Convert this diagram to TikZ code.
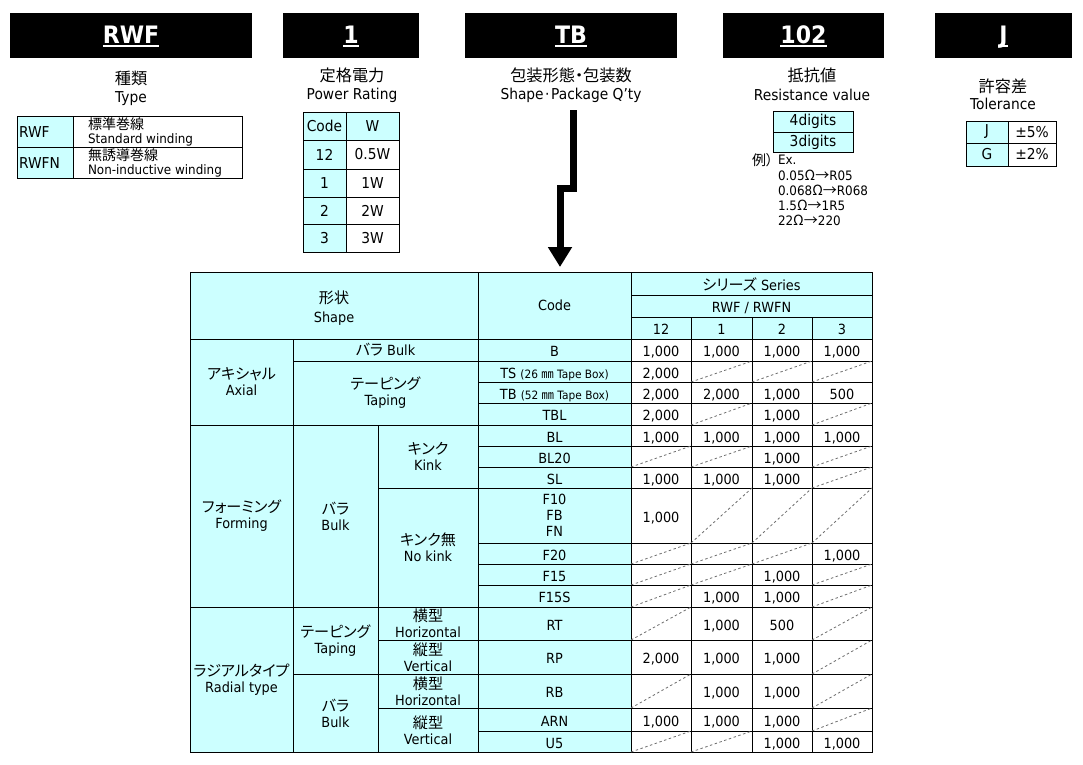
\documentclass[tikz,border=0pt]{standalone}
\usepackage{fontspec}
\setmainfont{DejaVu Sans}[FakeStretch=0.92]
\newfontfamily\jp{Noto Sans CJK JP}[RawFeature=+palt,Scale=1.08]
\usetikzlibrary{arrows.meta}
\definecolor{cy}{RGB}{204,255,255}
\definecolor{slgray}{RGB}{110,110,110}
\def\slmark{/}
\tikzset{
  every node/.style={inner sep=0pt, outer sep=0pt},
  hbox/.style={fill=black, minimum height=45pt},
  htext/.style={text=white, font=\fontsize{24}{28}\selectfont\bfseries, anchor=base},
  lbl/.style={font=\fontsize{15}{18}\selectfont},
  small/.style={font=\fontsize{13}{14}\selectfont},
  cbox/.style={draw=black, line width=0.9pt, fill=cy, align=center, font=\fontsize{14}{16}\selectfont},
  wbox/.style={draw=black, line width=0.9pt, fill=white, align=center, font=\fontsize{14}{16}\selectfont},
  oneline/.style={text height=13.6pt, text depth=0pt},
  slash/.style={draw=slgray, line width=0.8pt, dash pattern=on 2.5pt off 2.5pt},
  uline/.style={draw=white, line width=1.5pt},
}
\newcommand\bx[7]{%
  \node[#1, minimum width={(#5-#3)*1pt}, minimum height={(#6-#4)*1pt}] (#2) at ({(#3+#5)/2},{(#4+#6)/2}) {#7};}
\newcommand\dc[6]{%
  \def\tmpv{#6}%
  \ifx\tmpv\slmark
    \bx{wbox}{#1}{#2}{#3}{#4}{#5}{}%
    \draw[slash] (#1.south west) -- (#1.north east);%
  \else
    \bx{wbox,oneline}{#1}{#2}{#3}{#4}{#5}{#6}%
  \fi}
\newcommand\drow[7]{%
  \dc{#1a}{631}{#2}{691}{#3}{#4}%
  \dc{#1b}{691}{#2}{752}{#3}{#5}%
  \dc{#1c}{752}{#2}{812}{#3}{#6}%
  \dc{#1d}{812}{#2}{872}{#3}{#7}}
\newcommand\hd[5]{% name x1 x2 text
  \node[hbox, minimum width={(#3-#2)*1pt}] (#1) at ({(#2+#3)/2},35.5) {};
  \node[htext] (#1t) at ({(#2+#3)/2},43) {#4};
  \draw[uline] ([yshift=-3pt]#1t.base west) -- ([yshift=-3pt]#1t.base east);}
\newcommand\sm{\fontsize{11.5}{13}\selectfont}
\begin{document}
\begin{tikzpicture}[x=1pt,y=-1pt]
\fill[white] (0,0) rectangle (1083,764);
\useasboundingbox (0,0) rectangle (1083,764);

% ---- header boxes
\hd{h1}{10}{252}{RWF}{}
\hd{h2}{283}{419}{1}{}
\hd{h3}{465}{677}{TB}{}
\hd{h4}{723}{884}{102}{}
\hd{h5}{935}{1072}{J}{}

% ---- labels
\node[lbl] (l1a) at (131,78) {\jp 種類};
\node[lbl] (l1b) at (131,99) {Type};
\node[lbl] (l2a) at (352,75) {\jp 定格電力};
\node[lbl] (l2b) at (352,95) {Power Rating};
\node[lbl] (l3a) at (571,75) {\jp 包装形態・包装数};
\node[lbl] (l3b) at (571,95) {Shape\kern1.5pt·\kern1.5pt Package Q’ty};
\node[lbl] (l4a) at (812,75) {\jp 抵抗値};
\node[lbl] (l4b) at (812,95) {Resistance value};
\node[lbl] (l5a) at (1003,86) {\jp 許容差};
\node[lbl] (l5b) at (1003,104) {Tolerance};

% ---- type table
\bx{cbox}{tA1}{17}{116}{73}{147}{}
\bx{wbox}{tA2}{73}{116}{242}{147}{}
\bx{cbox}{tB1}{17}{147}{73}{178}{}
\bx{wbox}{tB2}{73}{147}{242}{178}{}
\node[lbl, anchor=west] (tA1t) at (19,132) {RWF};
\node[lbl, anchor=west] (tB1t) at (19,163) {RWFN};
\node[small, anchor=west, align=left] (tA2t) at (88,131.5) {{\jp 標準巻線}\\Standard winding};
\node[small, anchor=west, align=left] (tB2t) at (88,162.5) {{\jp 無誘導巻線}\\Non-inductive winding};

% ---- power table
\bx{cbox,lbl}{p0a}{303}{112}{346}{140}{Code}
\bx{cbox,lbl}{p0b}{346}{112}{399}{140}{W}
\bx{cbox,lbl}{p1a}{303}{140}{346}{169}{12}
\bx{wbox,lbl}{p1b}{346}{140}{399}{169}{0.5W}
\bx{cbox,lbl}{p2a}{303}{169}{346}{197}{1}
\bx{wbox,lbl}{p2b}{346}{169}{399}{197}{1W}
\bx{cbox,lbl}{p3a}{303}{197}{346}{224}{2}
\bx{wbox,lbl}{p3b}{346}{197}{399}{224}{2W}
\bx{cbox,lbl}{p4a}{303}{224}{346}{252}{3}
\bx{wbox,lbl}{p4b}{346}{224}{399}{252}{3W}

% ---- resistance
\bx{cbox,lbl}{r1}{773}{111}{853}{132}{4digits}
\bx{cbox,lbl}{r2}{773}{132}{853}{152}{3digits}
\node[small, anchor=west] (ex0) at (752,160) {\jp 例）};
\node[small, anchor=west] (ex1) at (778,160) {Ex.};
\node[small, anchor=west] (ex2) at (778,175) {0.05{\jp Ω→}R05};
\node[small, anchor=west] (ex3) at (778,190) {0.068{\jp Ω→}R068};
\node[small, anchor=west] (ex4) at (778,205) {1.5{\jp Ω→}1R5};
\node[small, anchor=west] (ex5) at (778,220) {22{\jp Ω→}220};

% ---- tolerance
\bx{cbox,lbl}{g1a}{966}{121}{1008}{143}{J}
\bx{wbox,lbl}{g1b}{1008}{121}{1056}{143}{±5\%}
\bx{cbox,lbl}{g2a}{966}{143}{1008}{166}{G}
\bx{wbox,lbl}{g2b}{1008}{143}{1056}{166}{±2\%}

% ---- arrow
\coordinate (a0) at (573.5,110);
\coordinate (a1) at (560,267);
\draw[line width=7pt, line join=miter, -{Triangle[length=20pt,width=23pt]}] (a0) -- ++(0,78.5) -| (a1);

% ---- main table header
\bx{cbox}{hShape}{190}{272}{478}{339}{}
\node[cbox, draw=none, fill=none] (hShapeT) at (334,308) {{\jp 形状}\\[3pt]Shape};
\bx{cbox}{hCode}{478}{272}{631}{339}{Code}
\bx{cbox,oneline}{hSer}{631}{272}{872}{295}{{\jp シリーズ} Series}
\bx{cbox,oneline}{hRw}{631}{295}{872}{317}{RWF / RWFN}
\bx{cbox,oneline}{hc1}{631}{317}{691}{339}{12}
\bx{cbox,oneline}{hc2}{691}{317}{752}{339}{1}
\bx{cbox,oneline}{hc3}{752}{317}{812}{339}{2}
\bx{cbox,oneline}{hc4}{812}{317}{872}{339}{3}

% ---- shape columns
\bx{cbox}{sAx}{190}{339}{293}{425}{{\jp アキシャル}\\Axial}
\bx{cbox}{sAxB}{293}{339}{478}{361}{{\jp バラ} Bulk}
\bx{cbox}{sAxT}{293}{361}{478}{425}{{\jp テーピング}\\Taping}
\bx{cbox}{sFo}{190}{425}{293}{607}{{\jp フォーミング}\\Forming}
\bx{cbox}{sFoB}{293}{425}{378}{607}{{\jp バラ}\\Bulk}
\bx{cbox}{sFoK}{378}{425}{478}{488}{{\jp キンク}\\Kink}
\bx{cbox}{sFoN}{378}{488}{478}{607}{{\jp キンク無}\\No kink}
\bx{cbox}{sRa}{190}{607}{293}{752}{{\jp ラジアルタイプ}\\Radial type}
\bx{cbox}{sRaT}{293}{607}{378}{674}{{\jp テーピング}\\Taping}
\bx{cbox}{sRaB}{293}{674}{378}{752}{{\jp バラ}\\Bulk}
\bx{cbox}{sRaTH}{378}{607}{478}{640}{{\jp 横型}\\Horizontal}
\bx{cbox}{sRaTV}{378}{640}{478}{674}{{\jp 縦型}\\Vertical}
\bx{cbox}{sRaBH}{378}{674}{478}{708}{{\jp 横型}\\Horizontal}
\bx{cbox}{sRaBV}{378}{708}{478}{752}{{\jp 縦型}\\Vertical}

% ---- code column
\bx{cbox,oneline}{cB}{478}{339}{631}{361}{B}
\bx{cbox,oneline}{cTS}{478}{361}{631}{382}{TS {\sm(26 {\jp ㎜} Tape Box)}}
\bx{cbox,oneline}{cTB}{478}{382}{631}{403}{TB {\sm(52 {\jp ㎜} Tape Box)}}
\bx{cbox,oneline}{cTBL}{478}{403}{631}{425}{TBL}
\bx{cbox,oneline}{cBL}{478}{425}{631}{446}{BL}
\bx{cbox,oneline}{cBLt}{478}{446}{631}{467}{BL20}
\bx{cbox,oneline}{cSL}{478}{467}{631}{488}{SL}
\bx{cbox}{cF}{478}{488}{631}{543}{\fontsize{14}{17}\selectfont F10\\FB\\FN}
\bx{cbox,oneline}{cFt}{478}{543}{631}{564}{F20}
\bx{cbox,oneline}{cFf}{478}{564}{631}{585}{F15}
\bx{cbox,oneline}{cFs}{478}{585}{631}{607}{F15S}
\bx{cbox,oneline}{cRT}{478}{607}{631}{640}{RT}
\bx{cbox,oneline}{cRP}{478}{640}{631}{674}{RP}
\bx{cbox,oneline}{cRB}{478}{674}{631}{708}{RB}
\bx{cbox,oneline}{cARN}{478}{708}{631}{731}{ARN}
\bx{cbox,oneline}{cU}{478}{731}{631}{752}{U5}

% ---- data
\drow{rB}{339}{361}{1,000}{1,000}{1,000}{1,000}
\drow{rTS}{361}{382}{2,000}{/}{/}{/}
\drow{rTB}{382}{403}{2,000}{2,000}{1,000}{500}
\drow{rTBL}{403}{425}{2,000}{/}{1,000}{/}
\drow{rBL}{425}{446}{1,000}{1,000}{1,000}{1,000}
\drow{rBLt}{446}{467}{/}{/}{1,000}{/}
\drow{rSL}{467}{488}{1,000}{1,000}{1,000}{/}
\drow{rF}{488}{543}{1,000}{/}{/}{/}
\drow{rFt}{543}{564}{/}{/}{/}{1,000}
\drow{rFf}{564}{585}{/}{/}{1,000}{/}
\drow{rFs}{585}{607}{/}{1,000}{1,000}{/}
\drow{rRT}{607}{640}{/}{1,000}{500}{/}
\drow{rRP}{640}{674}{2,000}{1,000}{1,000}{/}
\drow{rRB}{674}{708}{/}{1,000}{1,000}{/}
\drow{rARN}{708}{731}{1,000}{1,000}{1,000}{/}
\drow{rU}{731}{752}{/}{/}{1,000}{1,000}
\end{tikzpicture}
\end{document}
